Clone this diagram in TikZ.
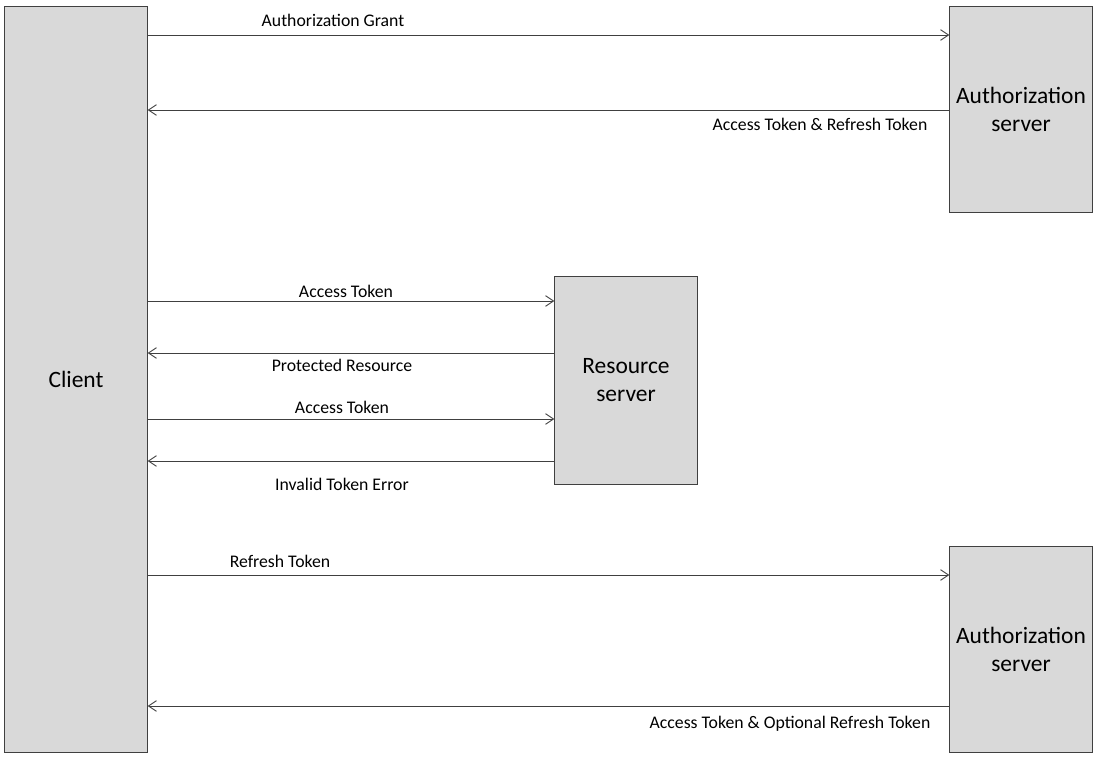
\documentclass[tikz,border=0pt]{standalone}
\usepackage{fontspec}
\setmainfont{Carlito}
\usetikzlibrary{arrows.meta}
\definecolor{boxfill}{HTML}{D9D9D9}
\definecolor{lines}{HTML}{404040}

\begin{document}
\begin{tikzpicture}[x=0.75pt, y=-0.75pt, >={Straight Barb[length=6pt,width=8pt]},
  party/.style={draw=lines, fill=boxfill, line width=0.75pt, inner sep=0pt, outer sep=0pt,
    minimum width=107.5pt, align=center, font=\fontsize{17.6}{21}\selectfont},
  msg/.style={draw=lines, line width=0.7pt, ->},
  lbl/.style={font=\fontsize{13.3}{15}\selectfont, inner sep=0pt}]
  \useasboundingbox (0,0) rectangle (1101,758);
  \node[party, minimum height=560pt] (client) at (76,379.5) {Client};
  \node[party, minimum height=155pt] (auth1) at (1021,109.5) {Authorization\\server};
  \node[party, minimum height=156pt] (res) at (626,380) {Resource\\server};
  \node[party, minimum height=155pt] (auth2) at (1021,649.5) {Authorization\\server};
  % message levels
  \coordinate (m1) at (0,35);
  \coordinate (m2) at (0,110);
  \coordinate (m3) at (0,301);
  \coordinate (m4) at (0,353);
  \coordinate (m5) at (0,419);
  \coordinate (m6) at (0,461);
  \coordinate (m7) at (0,575);
  \coordinate (m8) at (0,706);
  \draw[msg] (client.east |- m1) -- (auth1.west |- m1);
  \draw[msg] (auth1.west |- m2) -- (client.east |- m2);
  \draw[msg] (client.east |- m3) -- (res.west |- m3);
  \draw[msg] (res.west |- m4) -- (client.east |- m4);
  \draw[msg] (client.east |- m5) -- (res.west |- m5);
  \draw[msg] (res.west |- m6) -- (client.east |- m6);
  \draw[msg] (client.east |- m7) -- (auth2.west |- m7);
  \draw[msg] (auth2.west |- m8) -- (client.east |- m8);
  % labels
  \node[lbl] (l1) at (333,20) {Authorization Grant};
  \node[lbl] (l2) at (820,124) {Access Token \& Refresh Token};
  \node[lbl] (l3) at (346,291) {Access Token};
  \node[lbl] (l4) at (342,365) {Protected Resource};
  \node[lbl] (l5) at (342,407) {Access Token};
  \node[lbl] (l6) at (342,484) {Invalid Token Error};
  \node[lbl] (l7) at (280,561) {Refresh Token};
  \node[lbl] (l8) at (790,724) {Access Token \& Optional Refresh Token};
\end{tikzpicture}
\end{document}
